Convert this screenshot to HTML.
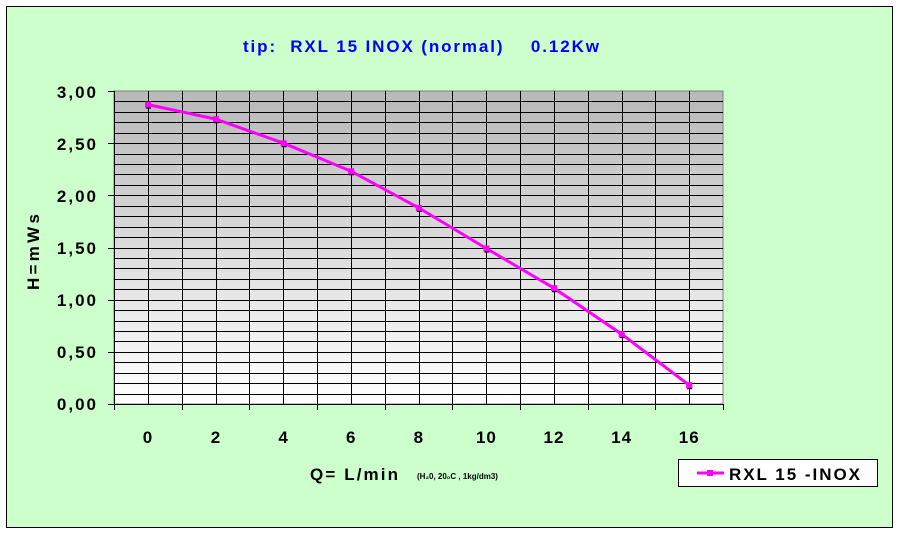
<!DOCTYPE html><html><head><style>body{margin:0;background:#fff}text{white-space:pre}</style></head><body>
<svg width="898" height="533" xmlns="http://www.w3.org/2000/svg" font-family="Liberation Sans, Arial, sans-serif" font-weight="bold">
<defs><linearGradient id="g" x1="0" y1="0" x2="0" y2="1"><stop offset="0" stop-color="#b8b8b8"/><stop offset="1" stop-color="#ffffff"/></linearGradient></defs>
<rect x="6.5" y="6.5" width="886" height="521" fill="#ccffcc" stroke="#000"/>
<text x="243" y="52" font-size="17" fill="#0000ff" xml:space="preserve" textLength="356" lengthAdjust="spacing">tip:  RXL 15 INOX (normal)    0.12Kw</text>
<rect x="114" y="91" width="609" height="313" fill="url(#g)" stroke="#808080"/>
<g id="grid" stroke="#000" stroke-width="1"></g>
<polyline fill="none" stroke="#ff00ff" stroke-width="3" points="148,104.6 216,119.2 283.6,143.2 351.2,171.3 418.8,207.9 486.4,248.5 554,288.2 621.6,334.1 689.2,385.2"/>
<g fill="#ff00ff" id="mk"></g>
<g font-size="17" text-anchor="end" fill="#000" letter-spacing="2">
<text x="98" y="98">3,00</text><text x="98" y="150">2,50</text><text x="98" y="202">2,00</text><text x="98" y="254">1,50</text><text x="98" y="306">1,00</text><text x="98" y="358">0,50</text><text x="98" y="410">0,00</text>
</g>
<g font-size="17" text-anchor="middle" fill="#000" letter-spacing="1">
<text x="148" y="443">0</text><text x="216" y="443">2</text><text x="283.6" y="443">4</text><text x="351.2" y="443">6</text><text x="418.8" y="443">8</text><text x="486.4" y="443">10</text><text x="554" y="443">12</text><text x="621.6" y="443">14</text><text x="689.2" y="443">16</text>
</g>
<text x="0" y="0" font-size="17" transform="translate(39 290) rotate(-90)" textLength="76" lengthAdjust="spacing">H=mWs</text>
<text x="310" y="480" font-size="17" textLength="88" lengthAdjust="spacing" xml:space="preserve">Q= L/min</text>
<text x="417" y="479" font-size="8">(H₂0, 20₀C , 1kg/dm3)</text>
<rect x="678.5" y="459.5" width="199" height="27" fill="#fff" stroke="#000"/>
<line x1="697" y1="473" x2="724" y2="473" stroke="#ff00ff" stroke-width="3"/>
<rect x="707" y="470" width="6" height="6" fill="#ff00ff"/>
<text x="729" y="480" font-size="17" textLength="131" lengthAdjust="spacing">RXL 15 -INOX</text>
</svg>
<script>
var ns="http://www.w3.org/2000/svg",g=document.getElementById("grid");
function L(a,b,c,d){var l=document.createElementNS(ns,"line");l.setAttribute("x1",a);l.setAttribute("y1",b);l.setAttribute("x2",c);l.setAttribute("y2",d);g.appendChild(l);}
for(var i=1;i<30;i++){var y=Math.round(91+i*313/30)+0.5;L(114,y,723,y);}
for(var i=1;i<18;i++){var x=Math.round(114+i*609/18)+0.5;L(x,91,x,404);}
L(114,404.5,723,404.5);L(114.5,91,114.5,404);
for(var i=0;i<7;i++){var y=Math.round(91+i*313/6)+0.5;L(108,y,114,y);}
for(var i=0;i<10;i++){var x=Math.round(114+i*609/9)+0.5;L(x,404,x,410);}
var m=document.getElementById("mk"),pts=[[148,104.6],[216,119.2],[283.6,143.2],[351.2,171.3],[418.8,207.9],[486.4,248.5],[554,288.2],[621.6,334.1],[689.2,385.2]];
pts.forEach(function(p){var r=document.createElementNS(ns,"rect");r.setAttribute("x",p[0]-2);r.setAttribute("y",p[1]-1);r.setAttribute("width",5);r.setAttribute("height",5);r.setAttribute("fill","#000");m.appendChild(r);var s=document.createElementNS(ns,"rect");s.setAttribute("x",p[0]-3);s.setAttribute("y",p[1]-3);s.setAttribute("width",6);s.setAttribute("height",6);s.setAttribute("fill","#ff00ff");m.appendChild(s);});
</script>
</body></html>
